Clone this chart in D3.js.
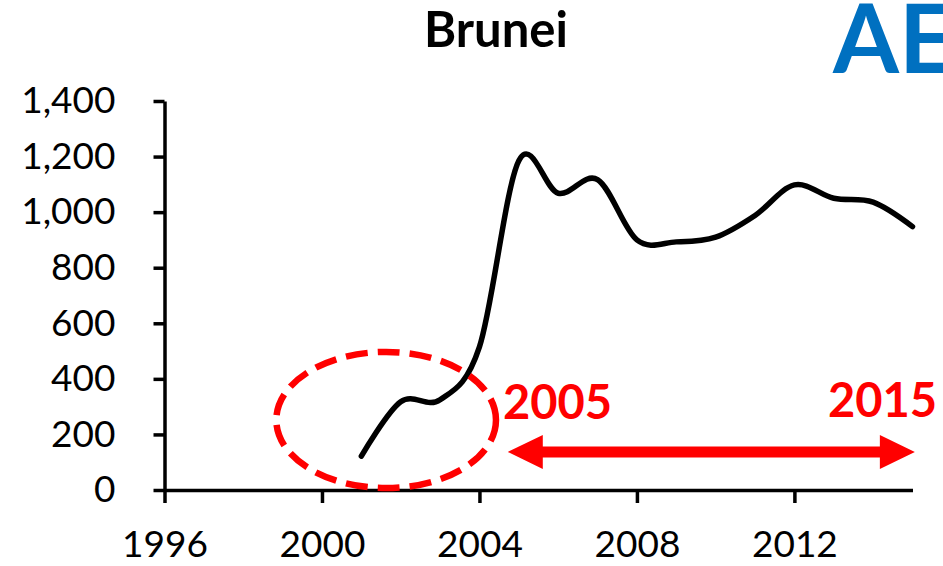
<!DOCTYPE html>
<html>
<head>
<meta charset="utf-8">
<script src="https://cdnjs.cloudflare.com/ajax/libs/d3/7.8.5/d3.min.js"></script>
<style>
  body { margin: 0; background: #fff; }
  svg { display: block; }
</style>
</head>
<body>
<script>
const w = 943;
const h = 566;

// data
const years  = [2001, 2002, 2003, 2004, 2005, 2006, 2007, 2008, 2009, 2010, 2011, 2012, 2013, 2014, 2015];
const values = [122, 318, 325, 515, 1185, 1068, 1117, 900, 893, 910, 988, 1098, 1050, 1036, 948];
const xTicks = [1996, 2000, 2004, 2008, 2012];
const yTicks = [0, 200, 400, 600, 800, 1000, 1200, 1400];

// annotations (in data units)
const circleCenter = [2001.63, 252];
const circleRadius = [2.79, 245];
const arrowYears = [2004.72, 2015.06];
const arrowValue = 137;
const arrowLabels = ["2005", "2015"];

const svg = d3.select("body")
              .append("svg")
              .attr("width", w)
              .attr("height", h);

const xScale = d3.scaleLinear()
                .domain([1996, 2015])
                .range([164.5, 912.5]);

const yScale = d3.scaleLinear()
                .domain([0, 1400])
                .range([490, 101]);

// axes
const yAxis = d3.axisLeft(yScale)
                .tickValues(yTicks)
                .tickFormat(d3.format(","))
                .tickSize(11)
                .tickPadding(38)
                .tickSizeOuter(0);

const xAxis = d3.axisBottom(xScale)
                .tickValues(xTicks)
                .tickFormat(d3.format("d"))
                .tickSize(13)
                .tickPadding(28)
                .tickSizeOuter(0);

const gy = svg.append("g")
    .attr("transform", "translate(" + xScale(1996) + ",0)")
    .call(yAxis);

const gx = svg.append("g")
    .attr("transform", "translate(0," + yScale(0) + ")")
    .call(xAxis);

[gx, gy].forEach(g => {
    g.selectAll("path, line").attr("stroke", "#000").attr("stroke-width", 3.5);
    g.selectAll("text")
        .attr("fill", "#000")
        .style("font-family", "Lato, 'Open Sans', sans-serif")
        .style("font-size", "37px");
});

// series line
const line = d3.line()
    .x((d, i) => xScale(years[i]))
    .y(d => yScale(d))
    .curve(d3.curveCardinal.tension(0));

svg.append("path")
    .datum(values)
    .attr("d", line)
    .attr("fill", "none")
    .attr("stroke", "#000")
    .attr("stroke-width", 5.5)
    .attr("stroke-linecap", "round")
    .attr("stroke-linejoin", "round");

// title
svg.append("text")
    .attr("x", 496)
    .attr("y", 47)
    .attr("text-anchor", "middle")
    .style("font-family", "Lato, sans-serif")
    .style("font-weight", "bold")
    .style("font-size", "49px")
    .text("Brunei");

svg.append("text")
    .attr("x", 833)
    .attr("y", 73)
    .attr("fill", "#0070C0")
    .style("font-family", "Lato, sans-serif")
    .style("font-weight", "bold")
    .style("font-size", "95px")
    .text("AE");

// dashed ellipse
const cx = xScale(circleCenter[0]);
const cy = yScale(circleCenter[1]);
svg.append("ellipse")
    .attr("cx", cx)
    .attr("cy", cy)
    .attr("rx", xScale(circleCenter[0] + circleRadius[0]) - cx)
    .attr("ry", cy - yScale(circleCenter[1] + circleRadius[1]))
    .attr("fill", "none")
    .attr("stroke", "#FF0000")
    .attr("stroke-width", 6.5)
    .attr("stroke-dasharray", "22 10");

// double arrow
const ax0 = xScale(arrowYears[0]);
const ax1 = xScale(arrowYears[1]);
const ay = yScale(arrowValue);
const headL = 35, headH = 17, shaft = 5.5;
const arrowPts = [
    [ax0, ay],
    [ax0 + headL, ay - headH],
    [ax0 + headL, ay - shaft],
    [ax1 - headL, ay - shaft],
    [ax1 - headL, ay - headH],
    [ax1, ay],
    [ax1 - headL, ay + headH],
    [ax1 - headL, ay + shaft],
    [ax0 + headL, ay + shaft],
    [ax0 + headL, ay + headH]
];
svg.append("path")
    .attr("d", d3.line()(arrowPts) + "Z")
    .attr("fill", "#FF0000");

svg.append("text")
    .attr("x", 503)
    .attr("y", 419)
    .attr("fill", "#FF0000")
    .style("font-family", "Lato, sans-serif")
    .style("font-weight", "bold")
    .style("font-size", "47px")
    .text(arrowLabels[0]);

svg.append("text")
    .attr("x", 937)
    .attr("y", 417)
    .attr("text-anchor", "end")
    .attr("fill", "#FF0000")
    .style("font-family", "Lato, sans-serif")
    .style("font-weight", "bold")
    .style("font-size", "47px")
    .text(arrowLabels[1]);
</script>
</body>
</html>
